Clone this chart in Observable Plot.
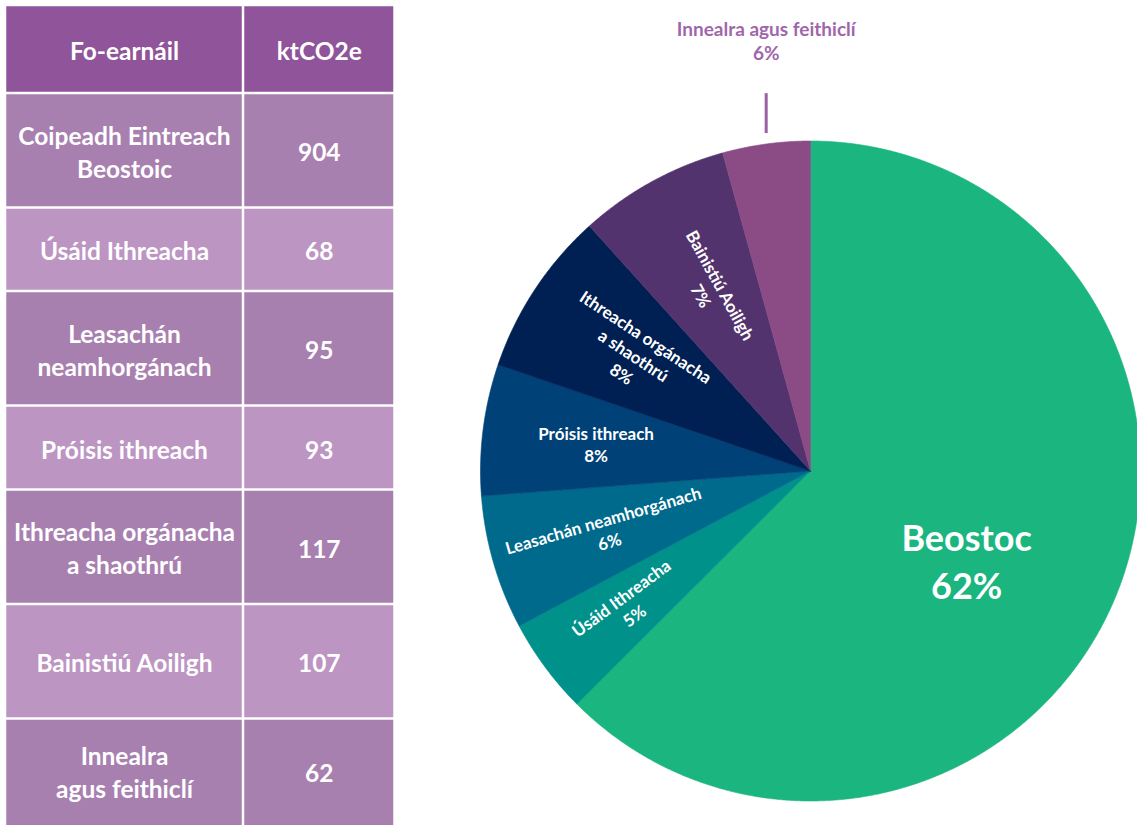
<!DOCTYPE html>
<html>
<head>
<meta charset="utf-8">
<script src="https://cdn.jsdelivr.net/npm/d3@7"></script>
<script src="https://cdn.jsdelivr.net/npm/@observablehq/plot@0.6"></script>
<style>
  body { margin: 0; background: #fff; }
  #wrap { position: relative; width: 1137px; height: 825px; overflow: hidden; background: #fff; }
  #table { position: absolute; left: 0; top: 0; }
  #pie { position: absolute; left: 400px; top: 0; }
</style>
</head>
<body>
<div id="wrap"><div id="table"></div><div id="pie"></div></div>
<script>
// ---------------- data ----------------
const headers = ["Fo-earnáil", "ktCO2e"];
const subsectors = [
  "Coipeadh Eintreach\nBeostoic",
  "Úsáid Ithreacha",
  "Leasachán\nneamhorgánach",
  "Próisis ithreach",
  "Ithreacha orgánacha\na shaothrú",
  "Bainistiú Aoiligh",
  "Innealra\nagus feithiclí"
];
const emissions = [904, 68, 95, 93, 117, 107, 62];
const pieLabels = [
  "Beostoc",
  "Úsáid Ithreacha",
  "Leasachán neamhorgánach",
  "Próisis ithreach",
  "Ithreacha orgánacha\na shaothrú",
  "Bainistiú Aoiligh",
  "Innealra agus feithiclí"
];
const pieShares = ["62%", "5%", "6%", "8%", "8%", "7%", "6%"];
const sliceColors = ["#1bb57f", "#00928a", "#006a8c", "#004177", "#001f52", "#53336e", "#8b4b84"];

// ---------------- layout / style ----------------
const FONT = "Lato, 'Open Sans', sans-serif";
const headerColor = "#8f5499";
const rowDark = "#a880b0";
const rowLight = "#bc95c3";
const colEdges = [5, 243, 394.5];
const tableTop = 5;
const rowHeights = [88, 114.5, 83.5, 114.5, 84, 114.5, 114.5, 104];

// ---------------- table ----------------
const rowEdges = [tableTop];
rowHeights.forEach(h => rowEdges.push(rowEdges[rowEdges.length - 1] + h));
const cells = [];
const tableRows = [headers].concat(subsectors.map((s, i) => [s, String(emissions[i])]));
tableRows.forEach((row, r) => {
  row.forEach((txt, c) => {
    cells.push({
      text: txt,
      x1: colEdges[c], x2: colEdges[c + 1],
      y1: rowEdges[r], y2: r === tableRows.length - 1 ? 830 : rowEdges[r + 1],
      ty: (rowEdges[r] + rowEdges[r + 1]) / 2,
      fill: r === 0 ? headerColor : (r % 2 === 1 ? rowDark : rowLight)
    });
  });
});

const tablePlot = Plot.plot({
  width: 400, height: 825, margin: 0,
  x: { domain: [0, 400], range: [0, 400], axis: null },
  y: { domain: [0, 825], range: [0, 825], axis: null },
  style: { fontFamily: FONT, background: "#fff" },
  marks: [
    Plot.rect(cells, { x1: "x1", x2: "x2", y1: "y1", y2: "y2", fill: d => d.fill, inset: 1.25 }),
    Plot.text(cells, {
      x: d => (d.x1 + d.x2) / 2, y: "ty",
      text: "text", fill: "white", fontSize: 24.5, fontWeight: "bold",
      lineHeight: 1.35, textAnchor: "middle", lineAnchor: "middle"
    })
  ]
});
document.getElementById("table").appendChild(tablePlot);

// ---------------- pie ----------------
const W = 737, H = 825, R = 330, cx = 410, cy = 470.5;
const total = d3.sum(emissions);
let acc = 0;
const slices = emissions.map((v, i) => {
  const a0 = acc / total * 2 * Math.PI; acc += v;
  const a1 = acc / total * 2 * Math.PI;
  return { i, key: "s" + i, a0, a1, mid: (a0 + a1) / 2 };
});
const slicePts = slices.flatMap(s => {
  const n = Math.max(4, Math.ceil((s.a1 - s.a0) / 0.005));
  const pts = [{ key: s.key, x: 0, y: 0 }];
  for (let k = 0; k <= n; k++) {
    const a = s.a0 + (s.a1 - s.a0) * k / n;
    pts.push({ key: s.key, x: Math.sin(a), y: Math.cos(a) });
  }
  pts.push({ key: s.key, x: 0, y: 0 });
  return pts;
});

const labelRadii = [0.545, 0.69, 0.645, 0.655, 0.64, 0.625];
const inner = slices.slice(1, 6).map(s => {
  const r = labelRadii[s.i];
  let rot = s.mid * 180 / Math.PI - 270;
  if (Math.abs(rot) < 10) rot = 0;
  return { x: r * Math.sin(s.mid), y: r * Math.cos(s.mid), rot, text: pieLabels[s.i] + "\n" + pieShares[s.i] };
});
const big = slices.slice(0, 1).map(s => ({ x: labelRadii[0] * Math.sin(s.mid), y: labelRadii[0] * Math.cos(s.mid), text: pieLabels[s.i] + "\n" + pieShares[s.i] }));
const outer = slices.slice(6).map(s => ({ x: Math.sin(s.mid), y1: 1.024, y2: 1.145, ty: 1.306, text: pieLabels[s.i] + "\n" + pieShares[s.i] }));

const piePlot = Plot.plot({
  width: W, height: H, margin: 0,
  x: { domain: [-cx / R, (W - cx) / R], axis: null },
  y: { domain: [-(H - cy) / R, cy / R], axis: null },
  color: { domain: slices.map(s => s.key), range: sliceColors },
  style: { fontFamily: FONT, background: "transparent" },
  marks: [
    Plot.line(slicePts, { x: "x", y: "y", z: "key", fill: "key", stroke: "key", strokeWidth: 0.6, curve: "linear" }),
    Plot.text(inner, { x: "x", y: "y", text: "text", rotate: "rot", fill: "white", fontSize: 17, fontWeight: "bold", lineHeight: 1.3, textAnchor: "middle", lineAnchor: "middle" }),
    Plot.text(big, { x: "x", y: "y", dx: -10, dy: 20, text: "text", fill: "white", fontSize: 36, fontWeight: "bold", lineHeight: 1.33, textAnchor: "middle", lineAnchor: "middle" }),
    Plot.link(outer, { x1: "x", x2: "x", y1: "y1", y2: "y2", stroke: "#9b5fa4", strokeWidth: 3 }),
    Plot.text(outer, { x: "x", y: "ty", text: "text", fill: "#a066aa", fontSize: 19, fontWeight: "bold", lineHeight: 1.26, textAnchor: "middle", lineAnchor: "middle" })
  ]
});
document.getElementById("pie").appendChild(piePlot);
</script>
</body>
</html>
